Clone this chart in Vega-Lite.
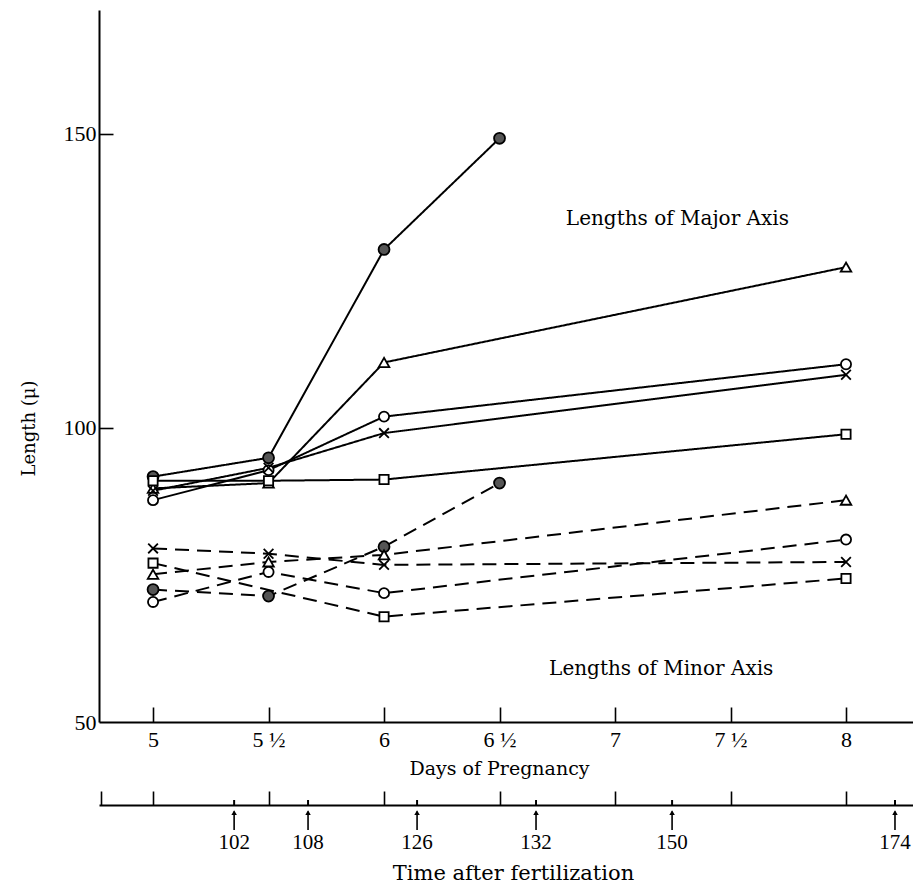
{
  "$schema": "https://vega.github.io/schema/vega-lite/v6.json",
  "background": "white",
  "padding": {"left": 20, "top": 10, "right": 0, "bottom": 0},
  "datasets": {
    "meas": [
      {"axis": "Major", "marker": "filled", "day": 5, "length": 91.7},
      {"axis": "Major", "marker": "filled", "day": 5.5, "length": 94.9},
      {"axis": "Major", "marker": "filled", "day": 6, "length": 130.3},
      {"axis": "Major", "marker": "filled", "day": 6.5, "length": 149.2},
      {"axis": "Major", "marker": "triangle", "day": 5, "length": 89.7},
      {"axis": "Major", "marker": "triangle", "day": 5.5, "length": 90.6},
      {"axis": "Major", "marker": "triangle", "day": 6, "length": 111.1},
      {"axis": "Major", "marker": "triangle", "day": 8, "length": 127.3},
      {"axis": "Major", "marker": "circle", "day": 5, "length": 87.7},
      {"axis": "Major", "marker": "circle", "day": 5.5, "length": 92.8},
      {"axis": "Major", "marker": "circle", "day": 6, "length": 101.9},
      {"axis": "Major", "marker": "circle", "day": 8, "length": 110.8},
      {"axis": "Major", "marker": "x", "day": 5, "length": 89.3},
      {"axis": "Major", "marker": "x", "day": 5.5, "length": 93.2},
      {"axis": "Major", "marker": "x", "day": 6, "length": 99.1},
      {"axis": "Major", "marker": "x", "day": 8, "length": 109.0},
      {"axis": "Major", "marker": "square", "day": 5, "length": 91.0},
      {"axis": "Major", "marker": "square", "day": 5.5, "length": 91.0},
      {"axis": "Major", "marker": "square", "day": 6, "length": 91.2},
      {"axis": "Major", "marker": "square", "day": 8, "length": 98.9},
      {"axis": "Minor", "marker": "filled", "day": 5, "length": 72.5},
      {"axis": "Minor", "marker": "filled", "day": 5.5, "length": 71.4},
      {"axis": "Minor", "marker": "filled", "day": 6, "length": 79.8},
      {"axis": "Minor", "marker": "filled", "day": 6.5, "length": 90.6},
      {"axis": "Minor", "marker": "triangle", "day": 5, "length": 75.1},
      {"axis": "Minor", "marker": "triangle", "day": 5.5, "length": 77.2},
      {"axis": "Minor", "marker": "triangle", "day": 6, "length": 78.4},
      {"axis": "Minor", "marker": "triangle", "day": 8, "length": 87.7},
      {"axis": "Minor", "marker": "circle", "day": 5, "length": 70.4},
      {"axis": "Minor", "marker": "circle", "day": 5.5, "length": 75.5},
      {"axis": "Minor", "marker": "circle", "day": 6, "length": 71.9},
      {"axis": "Minor", "marker": "circle", "day": 8, "length": 81.0},
      {"axis": "Minor", "marker": "x", "day": 5, "length": 79.5},
      {"axis": "Minor", "marker": "x", "day": 5.5, "length": 78.6},
      {"axis": "Minor", "marker": "x", "day": 6, "length": 76.7},
      {"axis": "Minor", "marker": "x", "day": 8, "length": 77.2},
      {"axis": "Minor", "marker": "square", "day": 5, "length": 77.0},
      {"axis": "Minor", "marker": "square", "day": 6, "length": 67.9},
      {"axis": "Minor", "marker": "square", "day": 8, "length": 74.4}
    ],
    "notes": [
      {"day": 7.27, "length": 135.4, "label": "Lengths of Major Axis"},
      {"day": 7.2, "length": 59.0, "label": "Lengths of Minor Axis"}
    ],
    "times": [
      {"pos": 5.351, "hours": 102},
      {"pos": 5.671, "hours": 108},
      {"pos": 6.143, "hours": 126},
      {"pos": 6.658, "hours": 132},
      {"pos": 7.247, "hours": 150},
      {"pos": 8.212, "hours": 174}
    ]
  },
  "bounds": "flush",
  "spacing": 83,
  "vconcat": [
    {
      "width": 814,
      "height": 712,
      "resolve": {"axis": {"x": "independent", "y": "independent"}},
      "layer": [
        {
          "data": {"name": "meas"},
          "mark": {"type": "line", "color": "black", "strokeWidth": 2},
          "encoding": {
            "x": {
              "field": "day", "type": "quantitative",
              "scale": {"domain": [4.766, 8.29], "nice": false, "zero": false},
              "axis": {
                "orient": "bottom",
                "values": [5, 5.5, 6, 6.5, 7, 7.5, 8],
                "labelExpr": "floor(datum.value) == datum.value ? '' + datum.value : floor(datum.value) + ' ½'",
                "ticks": false, "tickSize": 0, "labelPadding": 7,
                "labelFont": "Liberation Serif", "labelFontSize": 22,
                "title": "Days of Pregnancy",
                "titleFont": "DejaVu Serif", "titleFontSize": 19, "titleFontWeight": "normal",
                "titleX": 400, "titleY": 37, "titleBaseline": "top", "titleAnchor": null, "titleAlign": "center"
              }
            },
            "y": {
              "field": "length", "type": "quantitative",
              "scale": {"domain": [50, 171], "nice": false, "zero": false},
              "axis": {
                "orient": "left",
                "values": [50, 100, 150],
                "ticks": false, "tickSize": 0, "labelPadding": 3,
                "labelFont": "Liberation Serif", "labelFontSize": 22,
                "title": "Length (μ)",
                "titleFont": "DejaVu Serif", "titleFontSize": 18, "titleFontWeight": "normal",
                "titleAngle": 270, "titleX": -70, "titleY": 418, "titleAlign": "center", "titleBaseline": "middle"
              }
            },
            "detail": {"field": "marker"},
            "strokeDash": {
              "field": "axis", "type": "nominal",
              "scale": {"domain": ["Major", "Minor"], "range": [[1, 0], [14, 8]]},
              "legend": null
            }
          }
        },
        {
          "data": {"name": "meas"},
          "mark": {"type": "point", "stroke": "black", "strokeWidth": 1.8, "opacity": 1, "filled": false},
          "encoding": {
            "x": {"field": "day", "type": "quantitative", "axis": null},
            "y": {"field": "length", "type": "quantitative", "axis": null},
            "shape": {
              "field": "marker", "type": "nominal",
              "scale": {"domain": ["filled", "triangle", "circle", "x", "square"],
                        "range": ["circle", "triangle-up", "circle", "M-1,-1L1,1M1,-1L-1,1", "square"]},
              "legend": null
            },
            "fill": {
              "field": "marker", "type": "nominal",
              "scale": {"domain": ["filled", "triangle", "circle", "x", "square"],
                        "range": ["#555555", "white", "white", "transparent", "white"]},
              "legend": null
            },
            "size": {
              "field": "marker", "type": "nominal",
              "scale": {"domain": ["filled", "triangle", "circle", "x", "square"],
                        "range": [120, 85, 150, 95, 100]},
              "legend": null
            }
          }
        },
        {
          "data": {"name": "notes"},
          "mark": {"type": "text", "font": "DejaVu Serif", "fontSize": 20, "color": "black", "align": "center", "baseline": "middle"},
          "encoding": {
            "x": {
              "field": "day", "type": "quantitative",
              "axis": {"orient": "top", "offset": -712, "values": [5, 5.5, 6, 6.5, 7, 7.5, 8],
                       "labels": false, "domain": false, "ticks": true, "tickSize": 15, "title": null}
            },
            "y": {
              "field": "length", "type": "quantitative",
              "axis": {"orient": "right", "offset": -814, "values": [100, 150],
                       "labels": false, "domain": false, "ticks": true, "tickSize": 14, "title": null}
            },
            "text": {"field": "label"}
          }
        }
      ]
    },
    {
      "width": 814,
      "height": 47,
      "data": {"name": "times"},
      "encoding": {
        "x": {
          "field": "pos", "type": "quantitative",
          "scale": {"domain": [4.766, 8.29], "nice": false, "zero": false},
          "axis": {
            "orient": "top",
            "values": [4.775, 5, 5.5, 6, 6.5, 7, 7.5, 8],
            "labels": false, "tickSize": 14,
            "title": "Time after fertilization",
            "titleFont": "DejaVu Serif", "titleFontSize": 21, "titleFontWeight": "normal",
            "titleX": 414, "titleY": 57, "titleBaseline": "top", "titleAlign": "center", "titleAnchor": null
          }
        }
      },
      "layer": [
        {
          "mark": {"type": "rule", "color": "black", "strokeWidth": 1.6},
          "encoding": {
            "y": {"datum": 0.47, "type": "quantitative", "scale": {"domain": [0, 1]}, "axis": null},
            "y2": {"datum": 0.86}
          }
        },
        {
          "mark": {"type": "point", "shape": "triangle-up", "filled": true, "color": "black", "size": 30, "opacity": 1},
          "encoding": {
            "y": {"datum": 0.84, "type": "quantitative", "scale": {"domain": [0, 1]}, "axis": null}
          }
        },
        {
          "mark": {"type": "point", "shape": "M0,0L0,-1", "filled": false, "stroke": "black", "strokeWidth": 2, "size": 100, "opacity": 1},
          "encoding": {
            "y": {"datum": 1, "type": "quantitative", "scale": {"domain": [0, 1]}, "axis": null}
          }
        },
        {
          "mark": {"type": "text", "font": "Liberation Serif", "fontSize": 21, "color": "black", "align": "center", "baseline": "middle"},
          "encoding": {
            "y": {"datum": 0.2, "type": "quantitative", "scale": {"domain": [0, 1]}, "axis": null},
            "text": {"field": "hours", "type": "quantitative"}
          }
        }
      ]
    }
  ],
  "config": {
    "view": {"stroke": null},
    "axis": {
      "grid": false,
      "domainColor": "black", "domainWidth": 2,
      "tickColor": "black", "tickWidth": 1.6,
      "labelColor": "black", "titleColor": "black"
    }
  }
}
